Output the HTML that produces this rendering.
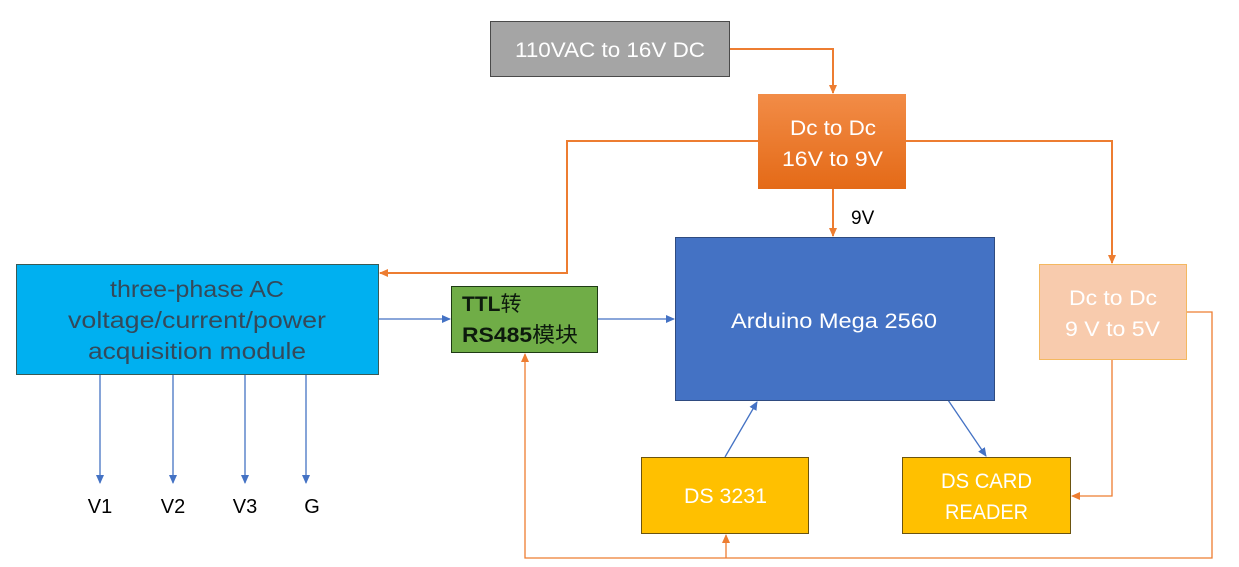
<!DOCTYPE html>
<html><head><meta charset="utf-8"><style>
html,body{margin:0;padding:0;background:#fff;}
svg{display:block;}
text{font-family:"Liberation Sans","Noto Sans CJK SC",sans-serif;}
</style></head><body>
<svg width="1239" height="567" viewBox="0 0 1239 567" xmlns="http://www.w3.org/2000/svg">
<defs>
<linearGradient id="og" x1="0" y1="0" x2="0" y2="1"><stop offset="0" stop-color="#f28c47"/><stop offset="1" stop-color="#e46a17"/></linearGradient>
<marker id="ao" markerWidth="10" markerHeight="10" refX="8" refY="5" orient="auto" markerUnits="userSpaceOnUse"><path d="M0,1 L9,5 L0,9 z" fill="#ed7d31"/></marker>
<marker id="ab" markerWidth="10" markerHeight="10" refX="8" refY="5" orient="auto" markerUnits="userSpaceOnUse"><path d="M0,1 L9,5 L0,9 z" fill="#4472c4"/></marker>
</defs>
<g fill="none" stroke="#ed7d31" stroke-width="2">
<polyline points="729,49 833,49 833,93" marker-end="url(#ao)"/>
<polyline points="833,189 833,236" marker-end="url(#ao)"/>
<polyline points="758,141 567,141 567,273 380,273" marker-end="url(#ao)"/>
<polyline points="906,141 1112,141 1112,263" marker-end="url(#ao)"/>
</g>
<g fill="none" stroke="#ed7d31" stroke-width="1.3">
<polyline points="1112,359 1112,496 1072,496" marker-end="url(#ao)"/>
<polyline points="1186,312 1212,312 1212,558 525,558 525,354" marker-end="url(#ao)"/>
<polyline points="726,558 726,535" marker-end="url(#ao)"/>
</g>
<g fill="none" stroke="#4472c4" stroke-width="1.3">
<line x1="378" y1="319" x2="450" y2="319" marker-end="url(#ab)"/>
<line x1="597" y1="319" x2="674" y2="319" marker-end="url(#ab)"/>
<line x1="725" y1="457" x2="757" y2="402" marker-end="url(#ab)"/>
<line x1="948" y1="400" x2="986" y2="456" marker-end="url(#ab)"/>
<line x1="100" y1="374" x2="100" y2="483" marker-end="url(#ab)"/>
<line x1="173" y1="374" x2="173" y2="483" marker-end="url(#ab)"/>
<line x1="245" y1="374" x2="245" y2="483" marker-end="url(#ab)"/>
<line x1="306" y1="374" x2="306" y2="483" marker-end="url(#ab)"/>
</g>
<rect x="490.5" y="21.5" width="239" height="55" fill="#a5a5a5" stroke="#4a4a4a"/>
<text x="515" y="57" font-size="21" fill="#fff" textLength="190" lengthAdjust="spacingAndGlyphs">110VAC to 16V DC</text>
<rect x="758" y="94" width="148" height="95" fill="url(#og)"/>
<text x="790" y="135" font-size="21" fill="#fff" textLength="86" lengthAdjust="spacingAndGlyphs">Dc to Dc</text>
<text x="782" y="166" font-size="21" fill="#fff" textLength="101" lengthAdjust="spacingAndGlyphs">16V to 9V</text>
<text x="851" y="224" font-size="19" fill="#000">9V</text>
<rect x="675.5" y="237.5" width="319" height="163" fill="#4472c4" stroke="#2f4b80"/>
<text x="731" y="328" font-size="21" fill="#fff" textLength="206" lengthAdjust="spacingAndGlyphs">Arduino Mega 2560</text>
<rect x="1039.5" y="264.5" width="147" height="95" fill="#f8cbad" stroke="#f4b860"/>
<text x="1069" y="305" font-size="21" fill="#fff" textLength="88" lengthAdjust="spacingAndGlyphs">Dc to Dc</text>
<text x="1065" y="336" font-size="21" fill="#fff" textLength="95" lengthAdjust="spacingAndGlyphs">9 V to 5V</text>
<rect x="16.5" y="264.5" width="362" height="110" fill="#00b0f0" stroke="#3a5a55"/>
<g font-size="23" fill="#34495a">
<text x="110" y="297" textLength="174" lengthAdjust="spacingAndGlyphs">three-phase AC</text>
<text x="68" y="328" textLength="258" lengthAdjust="spacingAndGlyphs">voltage/current/power</text>
<text x="88" y="359" textLength="218" lengthAdjust="spacingAndGlyphs">acquisition module</text>
</g>
<rect x="451.5" y="286.5" width="146" height="66" fill="#70ad47" stroke="#1e3a14"/>
<text x="462" y="311" font-size="21" font-weight="bold" fill="#0d1a0d">TTL<tspan font-weight="normal">转</tspan></text>
<text x="462" y="342" font-size="21" font-weight="bold" fill="#0d1a0d" textLength="116" lengthAdjust="spacingAndGlyphs">RS485<tspan font-weight="normal">模块</tspan></text>
<rect x="641.5" y="457.5" width="167" height="76" fill="#ffc000" stroke="#6b5410"/>
<text x="684" y="503" font-size="21" fill="#fff" textLength="83" lengthAdjust="spacingAndGlyphs">DS 3231</text>
<rect x="902.5" y="457.5" width="168" height="76" fill="#ffc000" stroke="#6b5410"/>
<text x="941" y="488" font-size="21" fill="#fff" textLength="91" lengthAdjust="spacingAndGlyphs">DS CARD</text>
<text x="945" y="519" font-size="21" fill="#fff" textLength="83" lengthAdjust="spacingAndGlyphs">READER</text>
<g font-size="20" fill="#000" text-anchor="middle">
<text x="100" y="513">V1</text>
<text x="173" y="513">V2</text>
<text x="245" y="513">V3</text>
<text x="312" y="513">G</text>
</g>
</svg>
</body></html>
